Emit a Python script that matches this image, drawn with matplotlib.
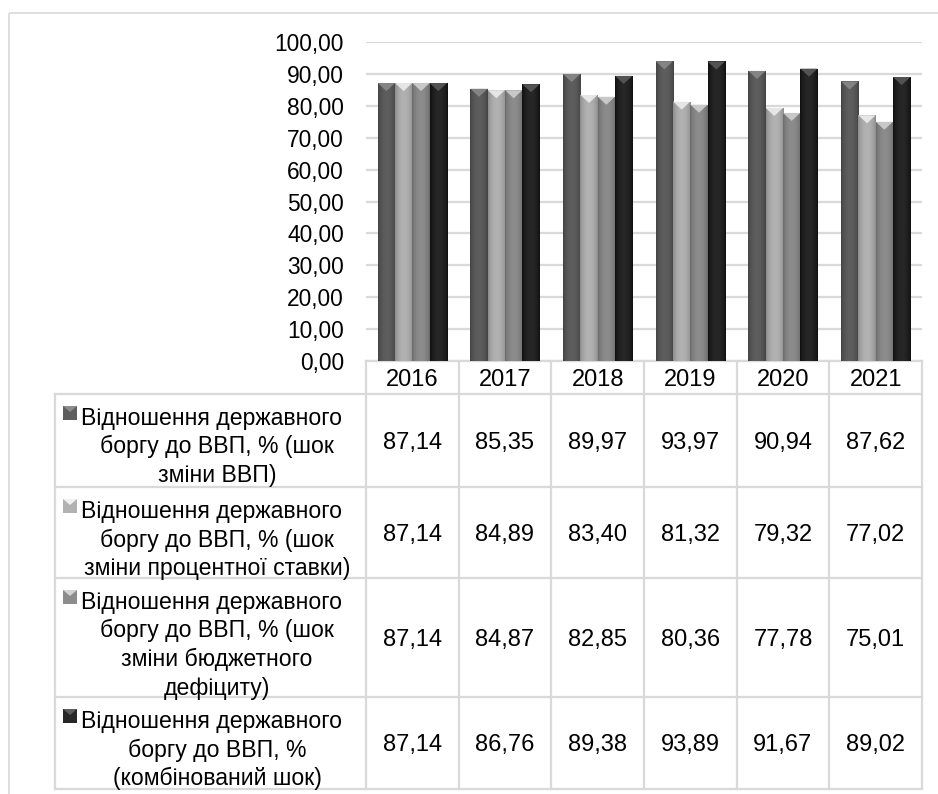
import matplotlib.pyplot as plt
import numpy as np
from matplotlib.patches import Polygon, Rectangle

plt.rcParams['font.family'] = ['Liberation Sans', 'DejaVu Sans']

# дані: відношення державного боргу до ВВП, %
years = ['2016', '2017', '2018', '2019', '2020', '2021']
shok_vvp = [87.14, 85.35, 89.97, 93.97, 90.94, 87.62]
shok_stavky = [87.14, 84.89, 83.40, 81.32, 79.32, 77.02]
shok_deficytu = [87.14, 84.87, 82.85, 80.36, 77.78, 75.01]
shok_kombin = [87.14, 86.76, 89.38, 93.89, 91.67, 89.02]
series = [shok_vvp, shok_stavky, shok_deficytu, shok_kombin]

series_names = [
    'Відношення державного\nборгу до ВВП, % (шок\nзміни ВВП)',
    'Відношення державного\nборгу до ВВП, % (шок\nзміни процентної ставки)',
    'Відношення державного\nборгу до ВВП, % (шок\nзміни бюджетного\nдефіциту)',
    'Відношення державного\nборгу до ВВП, %\n(комбінований шок)',
]
y_ticks = list(range(0, 101, 10))

# кольори стовпців: край, середина, скіс зверху
colors = [
    ('#414141', '#5e5e5e', '#8c8c8c'),
    ('#8a8a8a', '#b2b2b2', '#f0f0f0'),
    ('#6a6a6a', '#8c8c8c', '#d4d4d4'),
    ('#0e0e0e', '#272727', '#5c5c5c'),
]
grid_color = '#d9d9d9'


def fmt(v):
    return f'{v:.2f}'.replace('.', ',')


W, H = 938, 794
fig = plt.figure(figsize=(W / 100, H / 100), dpi=100)

# межі області побудови в пікселях
x_left, x_right = 366, 922
y_top, y_zero = 42, 361

# шар для таблиці даних та рамки
tab = fig.add_axes([0, 0, 1, 1], zorder=0)
tab.set_xlim(0, W)
tab.set_ylim(H, 0)
tab.axis('off')

ax = fig.add_axes([x_left / W, 1 - y_zero / H,
                   (x_right - x_left) / W, (y_zero - y_top) / H], zorder=1)
ax.patch.set_visible(False)
ax.set_xlim(-0.5, len(years) - 0.5)
ax.set_ylim(0, 100)
ax.set_yticks(y_ticks)
ax.set_yticklabels([fmt(v) for v in y_ticks])
ax.set_xticks([])
ax.tick_params(axis='y', length=0, pad=16, labelsize=16.4)
ax.yaxis.grid(True, color=grid_color, lw=1.6)
ax.set_axisbelow(True)
for s in ax.spines.values():
    s.set_visible(False)

bw = 0.187
px_per_unit = (y_zero - y_top) / 100
bevel = 8 / px_per_unit
t = np.linspace(0, 1, 64)
profile = np.sin(np.pi * t) ** 0.7

for i, vals in enumerate(series):
    edge, mid, top = colors[i]
    c_edge = np.array(plt.matplotlib.colors.to_rgb(edge))
    c_mid = np.array(plt.matplotlib.colors.to_rgb(mid))
    img = (c_edge[None, :] + (c_mid - c_edge)[None, :] * profile[:, None])[None, :, :]
    xs = np.arange(len(years)) + (i - 1.5) * bw
    bars = ax.bar(xs, vals, width=bw, color=mid, edgecolor='none', zorder=2)
    for b, x, v in zip(bars, xs, vals):
        x0, x1 = x - bw / 2, x + bw / 2
        im = ax.imshow(img, extent=[x0, x1, 0, v], aspect='auto', zorder=3,
                       interpolation='bilinear')
        im.set_clip_path(b)
        ax.add_patch(Polygon([(x0, v), (x1, v), (x, v - bevel)],
                             closed=True, color=top, alpha=0.85, lw=0, zorder=4))

ax.set_xlim(-0.5, len(years) - 0.5)
ax.set_ylim(0, 100)

# рамка діаграми
tab.add_patch(Rectangle((9, 13), W, H, fill=False, edgecolor=grid_color, lw=1.2))

# сітка таблиці даних
col_edges = np.linspace(x_left, x_right, len(years) + 1)
col_mid = (col_edges[:-1] + col_edges[1:]) / 2
row_edges = [394, 487, 578, 697, 789]
lab_left = 55

tab.plot([x_left, x_right], [y_zero, y_zero], color=grid_color, lw=1.6)
for y in row_edges:
    tab.plot([lab_left, x_right], [y, y], color=grid_color, lw=1.6)
tab.plot([lab_left, lab_left], [row_edges[0], row_edges[-1]], color=grid_color, lw=1.6)
for x in col_edges:
    tab.plot([x, x], [y_zero, row_edges[-1]], color=grid_color, lw=1.6)

fs_num = 17
fs_lab = 16.6
for x, yr in zip(col_mid, years):
    tab.text(x, 386, yr, ha='center', va='baseline', fontsize=fs_num)

line_step = 28.5
for r, (name, vals) in enumerate(zip(series_names, series)):
    top_y, bot_y = row_edges[r], row_edges[r + 1]
    center = (top_y + bot_y) / 2
    for x, v in zip(col_mid, vals):
        tab.text(x, center + 8.5, fmt(v), ha='center', va='baseline', fontsize=fs_num)
    lines = name.split('\n')
    for k, line in enumerate(lines):
        base = top_y + 31 + k * line_step
        if k == 0:
            tab.text(81, base, line, ha='left', va='baseline', fontsize=fs_lab)
            edge, mid, topc = colors[r]
            tab.add_patch(Rectangle((63, base - 19), 14, 14, color=mid, lw=0))
            tab.add_patch(Polygon([(63, base - 19), (77, base - 19), (70, base - 13)],
                                  closed=True, color=topc, lw=0))
        else:
            tab.text(217, base, line, ha='center', va='baseline', fontsize=fs_lab)

fig.savefig('out.png', dpi=100)
